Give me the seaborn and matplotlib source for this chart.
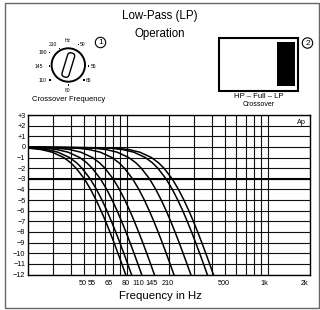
import matplotlib
matplotlib.use("Agg")
import pandas as pd
import matplotlib.pyplot as plt
import seaborn as sns
from matplotlib.patches import Circle, Rectangle, FancyBboxPatch
from matplotlib.transforms import Affine2D
from matplotlib.ticker import NullFormatter

levels_db = [0, -0.1, -0.25, -0.5, -1, -1.5, -2, -3, -4, -5, -6, -7, -8, -9, -10, -11, -12, -13]

# crossover settings and the frequency (Hz) of each curve at the levels above
crossover = ["50", "55", "65", "80", "110", "145", "190", "210"]
f_50 = [18, 19.5, 24.7, 29.6, 35.7, 40.1, 43.7, 50, 55.4, 60.6, 65.7, 70.8, 75.9, 81.2, 86.6, 92.3, 98.2, 104]
f_55 = [18, 21.5, 27.1, 32.5, 39.2, 44.1, 48.1, 55, 61.0, 66.7, 72.3, 77.8, 83.5, 89.3, 95.3, 101.5, 108, 115]
f_65 = [18, 25.4, 32.0, 38.4, 46.4, 52.1, 56.8, 65, 72.1, 78.8, 85.4, 92.0, 98.7, 105.5, 112.6, 119.9, 127.6, 136]
f_80 = [18, 31.3, 39.4, 47.3, 57.1, 64.1, 70.0, 80, 88.7, 97.0, 105.1, 113.2, 121.4, 129.9, 138.6, 147.6, 157, 167]
f_110 = [18, 43.0, 54.2, 65.0, 78.5, 88.2, 96.2, 110, 122.0, 133.4, 144.5, 155.7, 167.0, 178.6, 190.5, 203, 216, 230]
f_145 = [18, 56.7, 71.5, 85.7, 103.4, 116.2, 126.8, 145, 160.8, 175.8, 190.5, 205.2, 220.1, 235.4, 251.1, 267.5, 285, 303]
f_190 = [18, 74.2, 93.7, 112.3, 135.5, 152.3, 166.2, 190, 210.7, 230.4, 249.7, 268.9, 288.4, 308.4, 329.1, 350.6, 373, 396]
f_210 = [18, 82.0, 103.5, 124.1, 149.7, 168.3, 183.8, 210, 232.9, 254.6, 275.9, 297.2, 318.8, 340.9, 363.7, 387.5, 412, 438]
curve_freqs = [f_50, f_55, f_65, f_80, f_110, f_145, f_190, f_210]

# axis labels
y_ticks = list(range(3, -13, -1))
y_labels = ["+3", "+2", "+1", "0", "\u22121", "\u22122", "\u22123", "\u22124", "\u22125", "\u22126",
            "\u22127", "\u22128", "\u22129", "\u221210", "\u221211", "\u221212"]
x_grid = [30, 40, 50, 60, 70, 80, 90, 100, 200, 300, 400, 500, 600, 700, 800, 900, 1000]
x_label_pos = [49, 56, 75, 98, 121, 151, 194, 487, 952, 1827]
x_labels = ["50", "55", "65", "80", "110", "145", "210", "500", "1k", "2k"]

# knob scale labels
knob_labels = ["Hz", "210", "190", "145", "110", "80", "65", "55", "50"]


def build_frame():
    rows = []
    for name, freqs in zip(crossover, curve_freqs):
        for f, db in zip(freqs, levels_db):
            rows.append({"curve": name, "freq": f, "db": db})
    return pd.DataFrame(rows)


def draw_decor(ax):
    """Everything outside the graph, drawn in pixel coordinates."""
    ax.set_xlim(0, 320)
    ax.set_ylim(310, 0)
    ax.axis("off")

    ax.add_patch(Rectangle((5, 2.5), 313.5, 305.5, fill=False, ec="#666666", lw=1.0))

    ax.text(160, 16, "Low-Pass (LP)", ha="center", va="center", fontsize=8.3)
    ax.text(160, 33.5, "Operation", ha="center", va="center", fontsize=8.3)
    ax.text(160, 296, "Frequency in Hz", ha="center", va="center", fontsize=8.2)

    # crossover knob
    cx, cy = 68.3, 65
    ax.add_patch(Circle((cx, cy), 16.7, fill=False, ec="black", lw=1.4))
    ptr = FancyBboxPatch((cx - 3.6, cy - 12.5), 7.2, 25,
                         boxstyle="round,pad=0,rounding_size=3.2",
                         fill=False, ec="black", lw=1.0)
    ptr.set_transform(Affine2D().rotate_deg_around(cx, cy, 17) + ax.transData)
    ax.add_patch(ptr)

    lab_xy = [(68, 41), (53, 44), (43, 52), (39, 66), (43, 81), (68, 90.5), (89, 81), (94, 66), (83, 44)]
    dot_xy = [None, (59.3, 48.3), (49.3, 52.3), (49.3, 65.7), (50, 80), (68.3, 85), (84, 80),
              (88.3, 65.7), (78.3, 44.3)]
    for lab, (lx, ly), d in zip(knob_labels, lab_xy, dot_xy):
        ax.text(lx, ly, lab, ha="center", va="center", fontsize=3.6)
        if d is not None:
            ax.add_patch(Rectangle((d[0] - 0.8, d[1] - 0.8), 1.6, 1.6, color="black", lw=0))
    ax.text(69, 99.5, "Crossover Frequency", ha="center", va="center", fontsize=5.5)

    # circled numbers
    for x, y, s in [(100.5, 42.5, "1"), (307.5, 43, "2")]:
        ax.add_patch(Circle((x, y), 5.2, fill=False, ec="black", lw=0.8))
        ax.text(x, y + 0.3, s, ha="center", va="center", fontsize=6)

    # crossover switch
    ax.add_patch(Rectangle((218.5, 37.5), 79, 53, fill=False, ec="black", lw=1.5))
    ax.add_patch(Rectangle((277, 42), 17.5, 44, color="black", lw=0))
    ax.text(259, 97, "HP \u2013 Full \u2013 LP", ha="center", va="center", fontsize=5.6)
    ax.text(259, 104, "Crossover", ha="center", va="center", fontsize=5)


def plot_response(ax, df):
    sns.lineplot(data=df, x="freq", y="db", hue="curve", palette=["black"] * len(crossover),
                 estimator=None, sort=False, legend=False, lw=1.1, ax=ax)
    ax.set_xscale("log")
    ax.set_xlim(20, 2000)
    ax.set_ylim(-12, 3)

    ax.set_xticks(x_grid, minor=True)
    ax.xaxis.set_minor_formatter(NullFormatter())
    ax.set_xticks(x_label_pos, x_labels)
    ax.set_yticks(y_ticks, y_labels)
    ax.tick_params(axis="both", which="both", length=0, labelsize=5.2, colors="black")
    ax.tick_params(axis="x", pad=4)
    ax.tick_params(axis="y", pad=2)

    ax.xaxis.grid(True, which="minor", color="#111111", lw=0.8)
    ax.xaxis.grid(False, which="major")
    ax.yaxis.grid(True, which="major", color="#111111", lw=0.8)
    ax.axhline(-3, color="black", lw=1.5, zorder=1)
    ax.set_axisbelow(True)

    ax.set_xlabel("")
    ax.set_ylabel("")
    for sp in ax.spines.values():
        sp.set_color("black")
        sp.set_linewidth(1.0)
    ax.text(0.985, 0.975, "Ap", transform=ax.transAxes, ha="right", va="top", fontsize=5.2)


def main():
    sns.set_style("white")
    plt.rcParams["font.family"] = ["Liberation Sans", "DejaVu Sans"]
    plt.rcParams["text.color"] = "black"

    fig = plt.figure(figsize=(3.2, 3.1), dpi=100)
    ax_bg = fig.add_axes([0, 0, 1, 1], zorder=0)
    draw_decor(ax_bg)

    ax = fig.add_axes([0.0884, 0.1145, 0.9688 - 0.0884, 0.629 - 0.1145], zorder=1)
    plot_response(ax, build_frame())

    fig.savefig("out.png", dpi=100)


if __name__ == "__main__":
    main()
